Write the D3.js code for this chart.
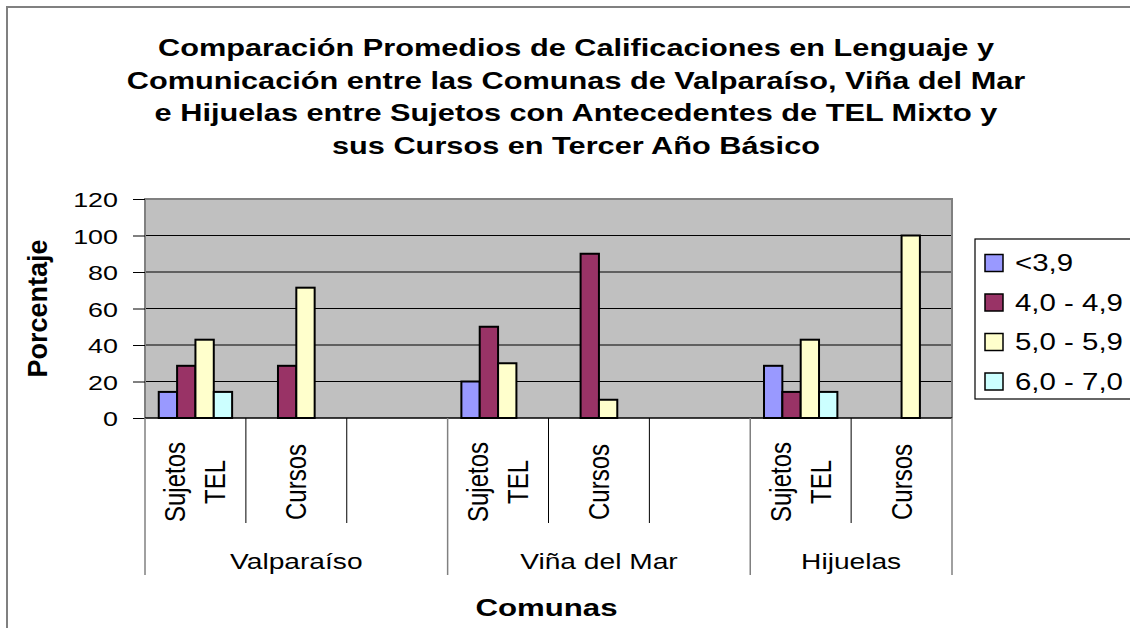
<!DOCTYPE html>
<html>
<head>
<meta charset="utf-8">
<script src="https://cdn.jsdelivr.net/npm/d3@7"></script>
<style>
body { margin: 0; background: #fff; }
text { font-family: "Liberation Sans", Arial, sans-serif; fill: #000; }
</style>
</head>
<body>
<script>
var titleLines = [
  "Comparación Promedios de Calificaciones en Lenguaje y",
  "Comunicación entre las Comunas de Valparaíso, Viña del Mar",
  "e Hijuelas entre Sujetos con Antecedentes de TEL Mixto y",
  "sus Cursos en Tercer Año Básico"
];
var comunas = ["Valparaíso", "Viña del Mar", "Hijuelas"];
var slotComuna = [0, 0, 0, 1, 1, 1, 2, 2];
var slotLabels = [["Sujetos", "TEL"], ["Cursos"], [], ["Sujetos", "TEL"], ["Cursos"], [], ["Sujetos", "TEL"], ["Cursos"]];
var series = ["<3,9", "4,0 - 4,9", "5,0 - 5,9", "6,0 - 7,0"];
var colors = ["#9999FF", "#993366", "#FFFFCC", "#CCFFFF"];
var valsMenor39 = [14.3, 0, null, 20, 0, null, 28.6, 0];
var vals40a49 = [28.6, 28.6, null, 50, 90, null, 14.3, 0];
var vals50a59 = [42.9, 71.4, null, 30, 10, null, 42.9, 100];
var vals60a70 = [14.3, 0, null, 0, 0, null, 14.3, 0];
var yTicks = [0, 20, 40, 60, 80, 100, 120];

var values = [valsMenor39, vals40a49, vals50a59, vals60a70];
var sx = 1.28; // the picture is stretched sideways

var svg = d3.select("body").append("svg")
    .attr("width", 1130)
    .attr("height", 628);

function stretchText(parent, x, y, str, rotate, scaleX) {
  var g = parent.append("g")
      .attr("transform", "translate(" + x + "," + y + ") scale(" + (scaleX || sx) + ",1)" + (rotate ? " rotate(-90)" : ""));
  return g.append("text").text(str);
}

// chart area border
svg.append("rect")
    .attr("x", 7).attr("y", 7)
    .attr("width", 1140).attr("height", 640)
    .attr("fill", "#fff")
    .attr("stroke", "#808080")
    .attr("stroke-width", 2);

var plot = {left: 145, right: 952, top: 199, bottom: 418};

var x = d3.scaleBand()
    .domain(d3.range(slotLabels.length))
    .range([plot.left, plot.right]);

var xs = d3.scaleBand()
    .domain(d3.range(series.length))
    .range([0, x.bandwidth()])
    .paddingOuter(0.75);

var y = d3.scaleLinear()
    .domain([0, 120])
    .range([plot.bottom, plot.top]);

svg.append("rect")
    .attr("x", plot.left).attr("y", plot.top)
    .attr("width", plot.right - plot.left)
    .attr("height", plot.bottom - plot.top)
    .attr("fill", "#C0C0C0");

svg.selectAll(".grid")
    .data(yTicks.filter(function(d) { return d > 0 && d < 120; }))
  .enter().append("line")
    .attr("class", "grid")
    .attr("x1", plot.left).attr("x2", plot.right)
    .attr("y1", function(d) { return y(d); })
    .attr("y2", function(d) { return y(d); })
    .attr("stroke", "#000")
    .attr("stroke-width", 1.2);

// bars
values.forEach(function(vals, s) {
  svg.selectAll(".bar" + s)
      .data(vals.map(function(v, i) { return {i: i, v: v}; })
        .filter(function(d) { return d.v; }))
    .enter().append("rect")
      .attr("x", function(d) { return x(d.i) + xs(s); })
      .attr("y", function(d) { return y(d.v); })
      .attr("width", xs.bandwidth())
      .attr("height", function(d) { return y(0) - y(d.v); })
      .attr("fill", colors[s])
      .attr("stroke", "#000")
      .attr("stroke-width", 2);
});

// plot border
svg.append("path")
    .attr("d", "M" + plot.left + "," + plot.bottom + "V" + plot.top + "H" + plot.right + "V" + plot.bottom)
    .attr("fill", "none")
    .attr("stroke", "#808080")
    .attr("stroke-width", 2);

// y axis
var yAxis = d3.axisLeft(y).tickValues(yTicks).tickSize(12).tickSizeOuter(0);
var yg = svg.append("g")
    .attr("transform", "translate(" + plot.left + ",0)")
    .call(yAxis);
yg.select(".domain").remove();
yg.selectAll("line").attr("stroke", "#000");
yg.selectAll("text")
    .attr("x", -27 / sx)
    .attr("dy", "0.36em")
    .attr("transform", "scale(" + sx + ",1)")
    .style("font-size", "21px")
    .style("font-family", "'Liberation Sans', Arial, sans-serif");

// x axis line
svg.append("line")
    .attr("x1", plot.left).attr("x2", plot.right)
    .attr("y1", plot.bottom).attr("y2", plot.bottom)
    .attr("stroke", "#000").attr("stroke-width", 1.5);

// separators: short between slots, long at group edges
var edges = d3.range(slotLabels.length + 1).map(function(i) {
  var isGroup = i === 0 || i === slotLabels.length || slotComuna[i] !== slotComuna[i - 1];
  return {x: i === slotLabels.length ? plot.right : x(i), group: isGroup};
});
svg.selectAll(".sep")
    .data(edges)
  .enter().append("line")
    .attr("x1", function(d) { return d.x; })
    .attr("x2", function(d) { return d.x; })
    .attr("y1", plot.bottom)
    .attr("y2", function(d) { return d.group ? 575 : 523; })
    .attr("stroke", function(d) { return d.group ? "#808080" : "#000"; })
    .attr("stroke-width", function(d) { return d.group ? 1.5 : 1; });

// slot labels (rotated)
slotLabels.forEach(function(lines, i) {
  var cx = x(i) + x.bandwidth() / 2;
  var blockH = 20 + (lines.length - 1) * 40;
  lines.forEach(function(str, k) {
    var bx = cx - blockH / 2 + 20 + k * 40;
    stretchText(svg, bx, 482, str, true, 1.22)
        .attr("text-anchor", "middle")
        .style("font-size", "24px");
  });
});

// group labels
comunas.forEach(function(c, gi) {
  var idx = d3.range(slotComuna.length).filter(function(i) { return slotComuna[i] === gi; });
  var x0 = x(idx[0]);
  var x1 = x(idx[idx.length - 1]) + x.bandwidth();
  stretchText(svg, (x0 + x1) / 2, 569, c)
      .attr("text-anchor", "middle")
      .style("font-size", "22px");
});

// axis titles
stretchText(svg, (plot.left + plot.right) / 2 - 2, 616, "Comunas", false, 1.3)
    .attr("text-anchor", "middle")
    .style("font-size", "24px")
    .style("font-weight", "bold");

stretchText(svg, 47, (plot.top + plot.bottom) / 2, "Porcentaje", true, 1.0)
    .attr("text-anchor", "middle")
    .style("font-size", "27px")
    .style("font-weight", "bold");

// title
titleLines.forEach(function(line, i) {
  stretchText(svg, 576, 56 + i * 32.5, line)
      .attr("text-anchor", "middle")
      .style("font-size", "24px")
      .style("font-weight", "bold");
});

// legend
var legend = svg.append("g").attr("transform", "translate(975,239)");
legend.append("rect")
    .attr("width", 170).attr("height", 160)
    .attr("fill", "#fff")
    .attr("stroke", "#000")
    .attr("stroke-width", 1.2);
series.forEach(function(name, i) {
  var cy = 24 + i * 39.5;
  legend.append("rect")
      .attr("x", 10).attr("y", cy - 8.5)
      .attr("width", 18).attr("height", 17)
      .attr("fill", colors[i])
      .attr("stroke", "#000")
      .attr("stroke-width", 1.5);
  stretchText(legend, 40, cy + 8, name)
      .style("font-size", "23px");
});
</script>
</body>
</html>
